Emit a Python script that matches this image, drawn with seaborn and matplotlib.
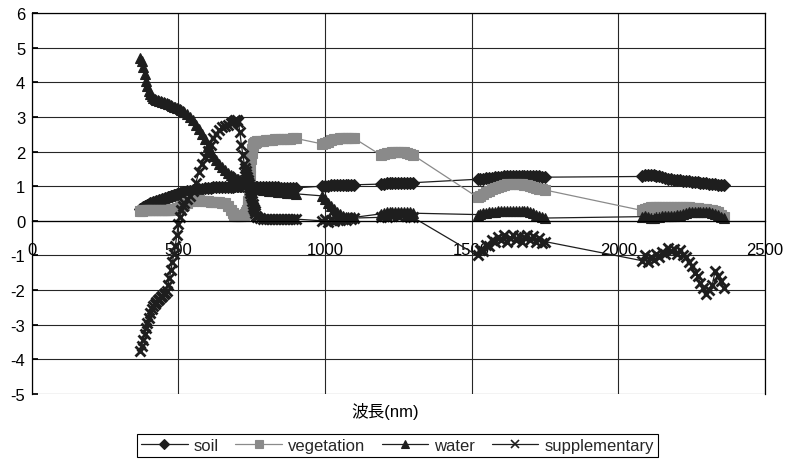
import matplotlib
matplotlib.use("Agg")
import matplotlib.pyplot as plt
import pandas as pd
import seaborn as sns

# ── Dados ─────────────────────────────────────────────────────────────────────
# (amostragem mais fina nas subidas/descidas ingremes)
WAVELENGTH = [
    370, 375, 380, 385, 390, 395, 400, 405, 410, 415, 420, 425, 430, 435, 440, 445,
    450, 455, 460, 465, 470, 475, 480, 485, 490, 495, 500, 505, 510, 515, 520,
    530, 540, 550, 560, 570, 580, 590, 600, 610, 620, 630, 640, 650, 660, 670, 680,
    685, 690, 695, 700, 705, 710, 715, 720, 725,
    728, 730, 732, 734, 736, 738, 740, 742, 744, 746, 748, 750, 752, 754, 756, 758,
    760, 762,
    766, 770,
    780, 790, 800, 810, 820, 830, 840, 850, 860, 870, 880, 890, 900,
    990, 1000, 1010, 1020, 1030, 1040, 1050, 1060, 1070, 1080, 1090, 1100,
    1190, 1200, 1210, 1220, 1230, 1240, 1250, 1260, 1270, 1280, 1290, 1300,
    1520, 1530, 1540, 1550, 1560, 1570, 1580, 1590, 1600, 1610, 1620, 1630,
    1640, 1650, 1660, 1670, 1680, 1690, 1700, 1710, 1720, 1730, 1740, 1750,
    2080, 2090, 2100, 2110, 2120, 2130, 2140, 2150, 2160, 2170, 2180, 2190, 2200,
    2210, 2220, 2230, 2240, 2250, 2260, 2270, 2280, 2290, 2300, 2310, 2320, 2330,
    2340, 2350, 2360,
]

SOIL = [
    0.35, 0.38, 0.40, 0.42, 0.44, 0.46, 0.48, 0.50, 0.51, 0.53, 0.54, 0.56, 0.57, 0.59, 0.60, 0.62,
    0.63, 0.65, 0.66, 0.68, 0.69, 0.71, 0.72, 0.74, 0.75, 0.77, 0.78, 0.79, 0.80, 0.82, 0.83,
    0.85, 0.87, 0.89, 0.91, 0.92, 0.93, 0.94, 0.95, 0.96, 0.97, 0.97, 0.98, 0.98, 0.98, 0.99, 0.99,
    0.99, 1.00, 1.00, 1.00, 1.00, 1.00, 1.00, 1.00, 1.00,
    1.00, 1.00, 1.00, 1.00, 1.00, 1.00, 1.00, 1.00, 1.00, 1.00, 1.00, 1.00, 1.00, 1.00, 1.00, 1.00,
    0.99, 0.99,
    0.99, 0.99,
    0.99, 0.98, 0.98, 0.98, 0.97, 0.97, 0.97, 0.96, 0.96, 0.96, 0.95, 0.95, 0.95,
    1.00, 1.01, 1.01, 1.02, 1.02, 1.02, 1.03, 1.03, 1.03, 1.03, 1.04, 1.04,
    1.06, 1.07, 1.08, 1.08, 1.09, 1.09, 1.10, 1.10, 1.10, 1.10, 1.10, 1.10,
    1.20, 1.21, 1.22, 1.23, 1.24, 1.25, 1.26, 1.27, 1.27, 1.28, 1.28, 1.29,
    1.29, 1.30, 1.30, 1.30, 1.30, 1.30, 1.29, 1.29, 1.28, 1.28, 1.27, 1.26,
    1.28, 1.32, 1.33, 1.33, 1.32, 1.30, 1.28, 1.26, 1.24, 1.22, 1.20, 1.19, 1.18,
    1.17, 1.16, 1.15, 1.14, 1.13, 1.12, 1.11, 1.10, 1.09, 1.08, 1.07, 1.06, 1.05,
    1.04, 1.03, 1.02,
]

VEGETATION = [
    0.28, 0.29, 0.30, 0.30, 0.30, 0.30, 0.31, 0.31, 0.31, 0.31, 0.31, 0.31, 0.31, 0.31, 0.31, 0.31,
    0.31, 0.32, 0.32, 0.32, 0.32, 0.32, 0.33, 0.34, 0.35, 0.36, 0.38, 0.40, 0.42, 0.44, 0.47,
    0.52, 0.56, 0.58, 0.59, 0.59, 0.58, 0.57, 0.56, 0.55, 0.55, 0.54, 0.53, 0.52, 0.50, 0.44, 0.30,
    0.22, 0.17, 0.15, 0.14, 0.14, 0.14, 0.15, 0.16, 0.18,
    0.20, 0.22, 0.26, 0.32, 0.42, 0.58, 0.78, 1.02, 1.28, 1.55, 1.78, 1.96, 2.08, 2.16, 2.21, 2.24,
    2.26, 2.27,
    2.28, 2.29,
    2.30, 2.31, 2.32, 2.33, 2.34, 2.35, 2.35, 2.36, 2.36, 2.37, 2.37, 2.38, 2.38,
    2.22, 2.25, 2.28, 2.32, 2.35, 2.37, 2.38, 2.39, 2.40, 2.40, 2.40, 2.38,
    1.90, 1.93, 1.95, 1.97, 1.98, 1.99, 2.00, 2.00, 1.99, 1.97, 1.94, 1.90,
    0.68, 0.73, 0.78, 0.83, 0.87, 0.91, 0.95, 0.98, 1.01, 1.03, 1.05, 1.06,
    1.07, 1.07, 1.07, 1.06, 1.04, 1.02, 1.00, 0.97, 0.95, 0.93, 0.91, 0.89,
    0.30, 0.35, 0.38, 0.40, 0.40, 0.40, 0.41, 0.41, 0.41, 0.41, 0.40, 0.40, 0.40,
    0.40, 0.40, 0.40, 0.39, 0.38, 0.37, 0.36, 0.35, 0.34, 0.33, 0.32, 0.30, 0.28,
    0.25, 0.18, 0.12,
]

WATER = [
    4.70, 4.60, 4.45, 4.25, 4.05, 3.88, 3.75, 3.66, 3.60, 3.55, 3.52, 3.50, 3.48, 3.46, 3.45, 3.43,
    3.42, 3.41, 3.40, 3.38, 3.36, 3.34, 3.32, 3.30, 3.28, 3.26, 3.25, 3.22, 3.20, 3.18, 3.15,
    3.08, 3.00, 2.90, 2.78, 2.65, 2.50, 2.35, 2.15, 2.00, 1.87, 1.75, 1.64, 1.54, 1.46, 1.39, 1.33,
    1.30, 1.27, 1.25, 1.22, 1.20, 1.18, 1.16, 1.14, 1.12,
    1.11, 1.10, 1.09, 1.08, 1.08, 1.07, 1.06, 1.05, 1.04, 1.04, 1.03, 1.02, 1.01, 1.00, 1.00, 0.99,
    0.98, 0.98,
    0.96, 0.94,
    0.92, 0.90, 0.88, 0.87, 0.86, 0.85, 0.84, 0.83, 0.82, 0.81, 0.80, 0.79, 0.78,
    0.72, 0.62, 0.52, 0.42, 0.34, 0.26, 0.20, 0.15, 0.12, 0.10, 0.10, 0.10,
    0.20, 0.22, 0.24, 0.25, 0.25, 0.26, 0.26, 0.26, 0.25, 0.25, 0.24, 0.22,
    0.18, 0.20, 0.22, 0.23, 0.24, 0.25, 0.26, 0.27, 0.27, 0.28, 0.28, 0.28,
    0.28, 0.28, 0.29, 0.29, 0.28, 0.27, 0.25, 0.22, 0.18, 0.14, 0.10, 0.08,
    0.12, 0.15, 0.12, 0.08, 0.08, 0.10, 0.12, 0.13, 0.14, 0.15, 0.15, 0.15, 0.16,
    0.18, 0.20, 0.22, 0.24, 0.25, 0.26, 0.26, 0.26, 0.25, 0.25, 0.24, 0.22, 0.20,
    0.16, 0.12, 0.08,
]

SUPPLEMENTARY = [
    -3.75, -3.60, -3.45, -3.28, -3.10, -2.95, -2.80, -2.67, -2.55, -2.47, -2.40, -2.35, -2.30, -2.25, -2.20, -2.16,
    -2.12, -2.08, -2.02, -1.85, -1.65, -1.42, -1.20, -0.95, -0.72, -0.42, -0.10, 0.12, 0.30, 0.42, 0.50,
    0.62, 0.72, 0.85, 1.10, 1.40, 1.65, 1.85, 2.02, 2.20, 2.38, 2.52, 2.62, 2.70, 2.75, 2.78, 2.82,
    2.85, 2.88, 2.90, 2.92, 2.85, 2.55, 2.20, 1.90, 1.65,
    1.53, 1.45, 1.36, 1.27, 1.19, 1.12, 1.05, 0.97, 0.89, 0.81, 0.73, 0.65, 0.57, 0.49, 0.41, 0.34,
    0.28, 0.23,
    0.15, 0.10,
    0.07, 0.06, 0.05, 0.05, 0.05, 0.05, 0.05, 0.05, 0.05, 0.05, 0.05, 0.05, 0.05,
    0.00, 0.05, -0.02, 0.03, 0.00, 0.05, 0.02, 0.06, 0.03, 0.08, 0.05, 0.08,
    0.10, 0.15, 0.12, 0.18, 0.15, 0.20, 0.15, 0.18, 0.20, 0.15, 0.12, 0.10,
    -1.00, -0.85, -0.88, -0.70, -0.72, -0.55, -0.62, -0.48, -0.55, -0.42, -0.60, -0.50,
    -0.40, -0.55, -0.45, -0.62, -0.48, -0.40, -0.55, -0.45, -0.60, -0.50, -0.65, -0.60,
    -1.15, -1.00, -1.20, -1.05, -1.12, -0.95, -1.05, -0.90, -0.95, -0.78, -0.88, -0.80, -0.95,
    -0.85, -1.00, -1.05, -1.20, -1.30, -1.50, -1.60, -1.80, -1.95, -2.10, -2.00, -1.85, -1.45,
    -1.60, -1.75, -1.95,
]

SERIES = ["soil", "vegetation", "water", "supplementary"]
X_TICKS = [0, 500, 1000, 1500, 2000, 2500]
Y_TICKS = list(range(-5, 7))
X_LABEL = "波長(nm)"

# cor, marcador, tamanho, espessura da borda do marcador
ESTILOS = {
    "soil":          ("#1e1e1e", "D", 6.5, 0.8),
    "vegetation":    ("#8a8a8a", "s", 6.5, 0.8),
    "water":         ("#1e1e1e", "^", 7.5, 0.8),
    "supplementary": ("#1e1e1e", "x", 7.5, 2.0),
}

GRID_COR = "#262626"


def main():
    sns.set_theme(style="white")
    plt.rcParams["font.family"] = ["Liberation Sans", "Noto Sans CJK JP"]
    plt.rcParams["axes.unicode_minus"] = False

    df = pd.DataFrame({
        "wl": WAVELENGTH,
        "soil": SOIL,
        "vegetation": VEGETATION,
        "water": WATER,
        "supplementary": SUPPLEMENTARY,
    }).melt(id_vars="wl", var_name="series", value_name="value")

    fig = plt.figure(figsize=(7.9, 4.6), dpi=100)
    ax = fig.add_axes([0.040, 0.1413, 0.9284, 0.8283])

    for nome in SERIES:
        cor, marcador, tam, mew = ESTILOS[nome]
        sub = df[df["series"] == nome]
        sns.lineplot(
            data=sub, x="wl", y="value", ax=ax,
            color=cor, linewidth=0.9,
            marker=marcador, markersize=tam,
            markeredgecolor=cor, markeredgewidth=mew,
            estimator=None, sort=False, label=nome,
        )

    ax.set_xlim(0, 2500)
    ax.set_ylim(-5, 6)
    ax.set_xticks(X_TICKS)
    ax.set_yticks(Y_TICKS)
    ax.set_xlabel("")
    ax.set_ylabel("")
    ax.grid(True, color=GRID_COR, linewidth=0.8)

    # eixo x cruzando em y=0, como no Excel
    ax.spines["bottom"].set_position(("data", 0))
    for lado in ["bottom", "left", "top", "right"]:
        ax.spines[lado].set_color("black")
        ax.spines[lado].set_linewidth(0.9)
    ax.tick_params(axis="x", length=0, pad=15, labelsize=12, colors="black")
    ax.tick_params(axis="y", direction="in", length=4, pad=4.5, labelsize=12,
                   colors="black", left=True)

    fig.text(0.487, 1 - 412 / 460, X_LABEL, ha="center", va="center",
             fontsize=12, color="black")

    handles, labels = ax.get_legend_handles_labels()
    ax.get_legend().remove()
    leg = fig.legend(
        handles, labels, loc="lower center", bbox_to_anchor=(0.503, 0.004),
        ncol=4, frameon=True, fancybox=False, edgecolor="black", framealpha=1,
        fontsize=12, handlelength=2.8, handletextpad=0.35, columnspacing=1.0,
        borderpad=0.25, borderaxespad=0,
    )
    leg.get_frame().set_linewidth(0.8)
    for h in leg.legend_handles:
        h.set_markersize(5.5)
        if h.get_marker() == "x":
            h.set_markeredgewidth(1.2)

    fig.savefig("out.png", dpi=100)


if __name__ == "__main__":
    main()
